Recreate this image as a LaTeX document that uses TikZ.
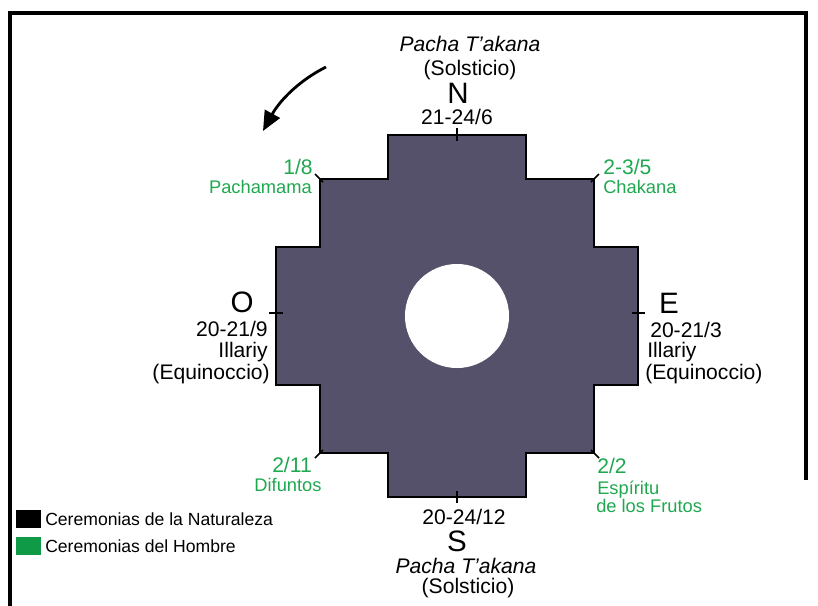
\documentclass[tikz,border=0pt]{standalone}
\usepackage{fontspec}
\setmainfont{Liberation Sans}
\usetikzlibrary{arrows.meta}
\definecolor{chakanaFill}{HTML}{55516A}
\definecolor{hombre}{HTML}{1FA84F}
\definecolor{hombreKey}{HTML}{0E9A47}
\newcommand{\keyEntry}[4]{
	\node[keybox, fill = #2] (#1Box) at (28.5, #3) {};
	\node[keytext, anchor = west] (#1Text) at (45, #3) {#4};
}
\tikzset{
	cardinal/.style = {font = \fontsize{21}{25}\selectfont, inner sep = 0pt},
	datetext/.style = {font = \fontsize{15}{18}\selectfont, inner sep = 0pt, text height = 10.7pt, text depth = 0pt},
	nametext/.style = {font = \fontsize{13}{16}\selectfont, inner sep = 0pt, text height = 9.3pt, text depth = 0pt},
	hombretext/.style = {text = hombre},
	keybox/.style = {minimum width = 0.62cm, minimum height = 0.45cm, inner sep = 0pt},
	keytext/.style = {font = \fontsize{12.5}{15}\selectfont, inner sep = 0pt, text height = 9pt, text depth = 0pt},
	tick/.style = {line width = 1.2pt},
	turn/.style = {line width = 2pt, -{Triangle[length = 14pt, width = 12pt]}}
}

\begin{document}
\begin{tikzpicture}[x = 0.025cm, y = -0.025cm]%

		\useasboundingbox (0,0) rectangle (818,606);

		% frame
		\draw[line width = 2.8pt] (10,606) -- (10,13) -- (806,13) -- (806,480);

		% chakana
		\draw[fill = chakanaFill, line width = 1pt] (388,135) -- (526,135) -- (526,179) -- (594,179) -- (594,247) -- (638,247) -- (638,385) -- (594,385) -- (594,453) -- (526,453) -- (526,497) -- (388,497) -- (388,453) -- (320,453) -- (320,385) -- (276,385) -- (276,247) -- (320,247) -- (320,179) -- (388,179) -- cycle;
		\fill[white] (457,316) circle[radius = 1.3cm];

		% ticks
		\draw[tick] (457,128) -- (457,141);
		\draw[tick] (269,313) -- (283,313);
		\draw[tick] (632,313) -- (645,313);
		\draw[tick] (457,491) -- (457,503);
		\draw[tick] (315,174) -- (323,182);
		\draw[tick] (599,174) -- (591,182);
		\draw[tick] (315,458) -- (323,450);
		\draw[tick] (599,458) -- (591,450);

		% turning arrow
		\coordinate (turnStart) at (326,67);
		\coordinate (turnEnd) at (263,131);
		\draw[turn] (turnStart) .. controls (300,80) and (280,100) .. (turnEnd);

		% north
		\node[datetext, font = \fontsize{15}{18}\selectfont\itshape] (northName) at (470,44) {Pacha T’akana};
		\node[datetext] (northNote) at (470,68) {(Solsticio)};
		\node[cardinal] (north) at (458,93) {N};
		\node[datetext] (northDate) at (457,117) {21-24/6};

		% west
		\node[cardinal] (west) at (242,302) {O};
		\node[datetext, anchor = east] (westDate) at (268,329) {20-21/9};
		\node[datetext, anchor = east] (westName) at (268,350) {Illariy};
		\node[datetext, anchor = east] (westNote) at (270,372) {(Equinoccio)};

		% east
		\node[cardinal] (east) at (669,303) {E};
		\node[datetext, anchor = west] (eastDate) at (650,330) {20-21/3};
		\node[datetext, anchor = west] (eastName) at (647,350) {Illariy};
		\node[datetext, anchor = west] (eastNote) at (645,372) {(Equinoccio)};

		% south
		\node[datetext] (southDate) at (464,517) {20-24/12};
		\node[cardinal] (south) at (457,541) {S};
		\node[datetext, font = \fontsize{15}{18}\selectfont\itshape] (southName) at (466,566) {Pacha T’akana};
		\node[datetext] (southNote) at (468,586) {(Solsticio)};

		% greens
		\node[datetext, hombretext, anchor = east] (nwDate) at (313,167) {1/8};
		\node[nametext, hombretext, anchor = east] (nwName) at (312,187) {Pachamama};
		\node[datetext, hombretext, anchor = west] (neDate) at (603,167) {2-3/5};
		\node[nametext, hombretext, anchor = west] (neName) at (603,187) {Chakana};
		\node[datetext, hombretext] (swDate) at (292,465) {2/11};
		\node[nametext, hombretext] (swName) at (288,485) {Difuntos};
		\node[datetext, hombretext, anchor = west] (seDate) at (597,466) {2/2};
		\node[nametext, hombretext, anchor = west] (seName) at (597,488) {Espíritu};
		\node[nametext, hombretext, anchor = west] (seNote) at (596,506) {de los Frutos};

		% legend
		\keyEntry{naturaleza}{black}{519}{Ceremonias de la Naturaleza}
		\keyEntry{hombre}{hombreKey}{546}{Ceremonias del Hombre}

	\end{tikzpicture}
\end{document}
